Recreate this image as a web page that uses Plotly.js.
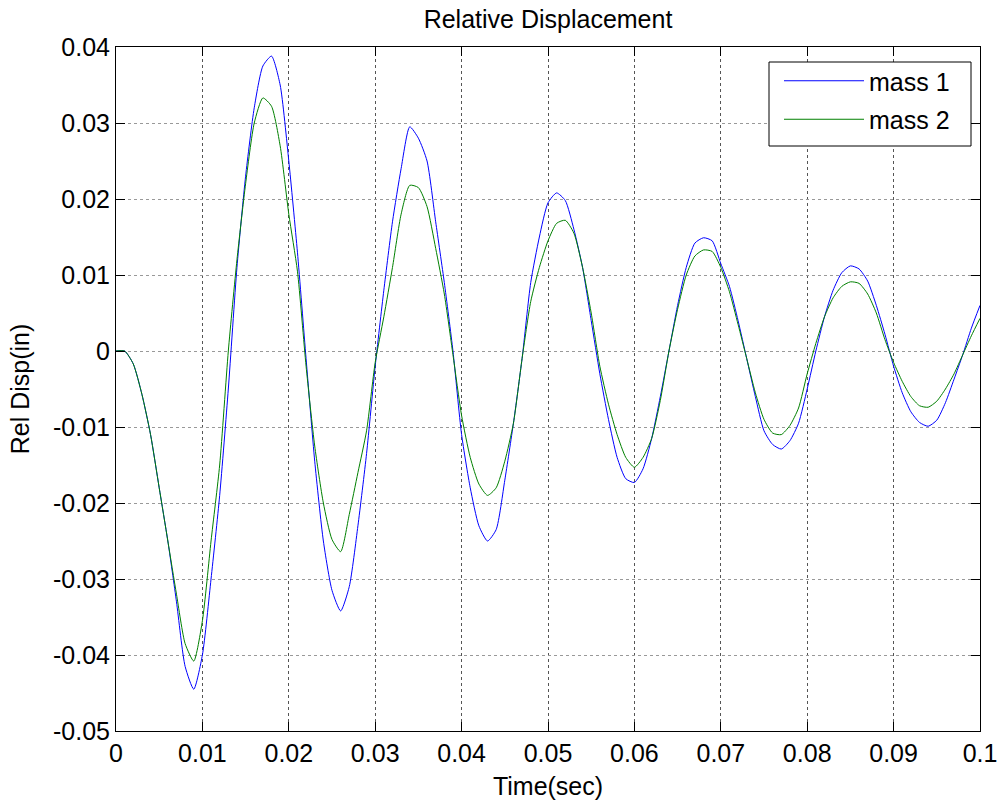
<!DOCTYPE html>
<html>
<head>
<meta charset="utf-8">
<script src="https://cdn.plot.ly/plotly-3.0.1.min.js"></script>
<style>
  html, body { margin: 0; padding: 0; background: #fff; }
  #chart { width: 1004px; height: 810px; }
</style>
</head>
<body>
<div id="chart"></div>
<script>
// Time samples (sec), one every 0.001 s
const timeSec = [
  0.000,0.001,0.002,0.003,0.004,0.005,0.006,0.007,0.008,0.009,
  0.010,0.011,0.012,0.013,0.014,0.015,0.016,0.017,0.018,0.019,
  0.020,0.021,0.022,0.023,0.024,0.025,0.026,0.027,0.028,0.029,
  0.030,0.031,0.032,0.033,0.034,0.035,0.036,0.037,0.038,0.039,
  0.040,0.041,0.042,0.043,0.044,0.045,0.046,0.047,0.048,0.049,
  0.050,0.051,0.052,0.053,0.054,0.055,0.056,0.057,0.058,0.059,
  0.060,0.061,0.062,0.063,0.064,0.065,0.066,0.067,0.068,0.069,
  0.070,0.071,0.072,0.073,0.074,0.075,0.076,0.077,0.078,0.079,
  0.080,0.081,0.082,0.083,0.084,0.085,0.086,0.087,0.088,0.089,
  0.090,0.091,0.092,0.093,0.094,0.095,0.096,0.097,0.098,0.099,
  0.100
];

// Relative displacement of mass 1 (in)
const mass1 = [
  0, 0, -0.0017, -0.0057, -0.011, -0.018, -0.025, -0.033, -0.0415, -0.0445,
  -0.040, -0.030, -0.019, -0.005, 0.011, 0.023, 0.032, 0.0375, 0.0388, 0.035,
  0.025, 0.013, -0.001, -0.0145, -0.025, -0.0315, -0.0342, -0.031, -0.023, -0.0135,
  -0.002, 0.008, 0.017, 0.024, 0.0295, 0.028, 0.025, 0.017, 0.009, 0.000,
  -0.011, -0.018, -0.023, -0.025, -0.0235, -0.017, -0.0095, -0.001, 0.009, 0.015,
  0.0195, 0.0208, 0.0198, 0.016, 0.011, 0.004, -0.003, -0.009, -0.014, -0.0168,
  -0.0173, -0.0155, -0.0115, -0.006, 0.000, 0.006, 0.011, 0.0142, 0.0149, 0.0145,
  0.0115, 0.0085, 0.004, -0.001, -0.006, -0.0105, -0.0123, -0.0129, -0.0118, -0.0095,
  -0.005, 0.000, 0.0045, 0.008, 0.0103, 0.0112, 0.0108, 0.0092, 0.006, 0.0022,
  -0.002, -0.0055, -0.008, -0.0094, -0.0099, -0.0091, -0.0068, -0.0037, -0.0005, 0.003,
  0.006
];

// Relative displacement of mass 2 (in)
const mass2 = [
  0, 0, -0.0017, -0.0057, -0.011, -0.018, -0.025, -0.032, -0.0385, -0.0408,
  -0.0355, -0.025, -0.015, 0.000, 0.012, 0.022, 0.030, 0.0333, 0.0322, 0.027,
  0.018, 0.0105, -0.002, -0.0125, -0.020, -0.0248, -0.0264, -0.0215, -0.016, -0.0105,
  -0.0015, 0.0045, 0.011, 0.018, 0.0218, 0.0215, 0.019, 0.0135, 0.0075, -0.0005,
  -0.0085, -0.0140, -0.0175, -0.019, -0.018, -0.0145, -0.0095, -0.001, 0.0065, 0.011,
  0.0145, 0.0168, 0.0172, 0.0155, 0.011, 0.005, -0.002, -0.007, -0.011, -0.014,
  -0.0153, -0.014, -0.0115, -0.0065, 0.000, 0.0055, 0.0100, 0.0125, 0.0133, 0.0131,
  0.011, 0.0078, 0.0035, -0.001, -0.0055, -0.009, -0.0108, -0.011, -0.0098, -0.0075,
  -0.003, 0.001, 0.0045, 0.007, 0.0085, 0.0091, 0.0089, 0.0075, 0.005, 0.0015,
  -0.0015, -0.004, -0.006, -0.0072, -0.0074, -0.0066, -0.005, -0.003, -0.0005, 0.002,
  0.0043
];

const seriesNames = ['mass 1', 'mass 2'];

const xTickVals = [0, 0.01, 0.02, 0.03, 0.04, 0.05, 0.06, 0.07, 0.08, 0.09, 0.1];
const xTickText = ['0', '0.01', '0.02', '0.03', '0.04', '0.05', '0.06', '0.07', '0.08', '0.09', '0.1'];
const yTickVals = [-0.05, -0.04, -0.03, -0.02, -0.01, 0, 0.01, 0.02, 0.03, 0.04];
const yTickText = ['-0.05', '-0.04', '-0.03', '-0.02', '-0.01', '0', '0.01', '0.02', '0.03', '0.04'];

const FONT = 'Liberation Sans, Arial, Helvetica, sans-serif';
const FS = 25;

const traces = [
  {
    x: timeSec, y: mass1, name: seriesNames[0], type: 'scatter', mode: 'lines',
    line: { color: '#0000ff', width: 1, shape: 'spline', smoothing: 0.6 }, legendgroup: 'a'
  },
  {
    x: timeSec, y: mass2, name: seriesNames[1], type: 'scatter', mode: 'lines',
    line: { color: '#008000', width: 1, shape: 'spline', smoothing: 0.6 }, legendgroup: 'b'
  }
];

const axisCommon = {
  showline: true, linecolor: '#000', linewidth: 1, mirror: 'ticks',
  ticks: 'inside', ticklen: 9, tickwidth: 1, tickcolor: '#000',
  showgrid: true, griddash: 'dot', gridwidth: 1,
  zeroline: false, tickmode: 'array',
  tickfont: { family: FONT, size: FS, color: '#000' }
};

// plot area in px: left 116, right 980, top 47, bottom 731
const PL = 116, PW = 864, PT = 47, PH = 684;
const px2x = p => (p - PL) / PW;
const px2y = p => (PT + PH - p) / PH;

const layout = {
  width: 1004, height: 810,
  margin: { l: 116, r: 24, t: 47, b: 79, pad: 0 },
  paper_bgcolor: '#fff', plot_bgcolor: '#fff',
  font: { family: FONT, size: FS, color: '#000' },
  title: {
    text: 'Relative Displacement',
    font: { family: FONT, size: FS, color: '#000' },
    x: 0.5, xref: 'paper', xanchor: 'center',
    y: 1 - 19 / 810, yref: 'container', yanchor: 'middle'
  },
  xaxis: Object.assign({}, axisCommon, {
    range: [0, 0.1], tickvals: xTickVals, ticktext: xTickText,
    gridcolor: '#555',
    title: { text: 'Time(sec)', font: { family: FONT, size: FS, color: '#000' }, standoff: 11 },
    automargin: false
  }),
  yaxis: Object.assign({}, axisCommon, {
    range: [-0.05, 0.04], tickvals: yTickVals, ticktext: yTickText,
    gridcolor: '#999',
    title: { text: 'Rel Disp(in)', font: { family: FONT, size: FS, color: '#000' }, standoff: 16 },
    automargin: false
  }),
  shapes: [
    // legend frame
    { type: 'rect', xref: 'paper', yref: 'paper',
      x0: px2x(769), x1: px2x(971), y0: px2y(146), y1: px2y(62),
      line: { color: '#000', width: 1 }, fillcolor: '#fff', layer: 'above' }
  ],
  showlegend: true,
  legend: {
    x: px2x(779), xanchor: 'left', y: px2y(58), yanchor: 'top',
    bgcolor: 'rgba(0,0,0,0)', borderwidth: 0,
    font: { family: FONT, size: FS, color: '#000' },
    itemwidth: 80, tracegroupgap: 3
  }
};

Plotly.newPlot('chart', traces, layout, { displayModeBar: false, staticPlot: true });
</script>
</body>
</html>
